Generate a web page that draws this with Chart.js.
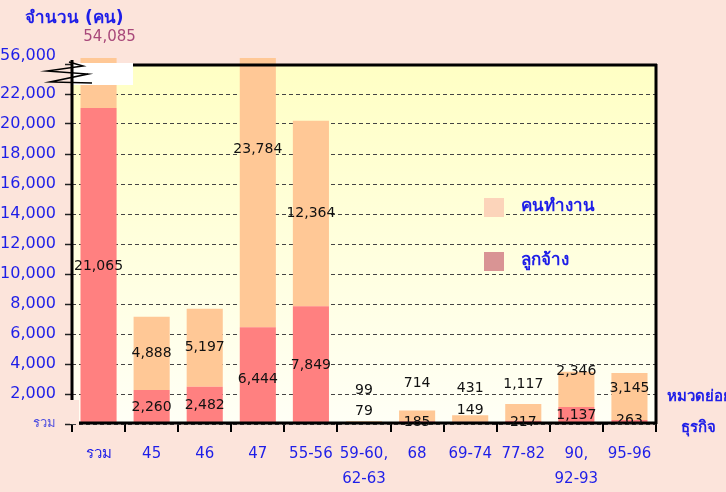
<!DOCTYPE html>
<html>
<head>
<meta charset="utf-8">
<script src="https://cdn.jsdelivr.net/npm/chart.js@4.4.1/dist/chart.umd.min.js"></script>
<style>
  html, body { margin: 0; padding: 0; background: #FCE4DB; }
  #wrap { width: 726px; height: 492px; position: relative; }
</style>
</head>
<body>
<div id="wrap"><canvas id="c" width="726" height="492"></canvas></div>
<script>
// ---- data ----
const categories = ['รวม', '45', '46', '47', '55-56', ['59-60,', '62-63'], '68', '69-74', '77-82', ['90,', '92-93'], '95-96'];
const employees = [21065, 2260, 2482, 6444, 7849, 79, 185, 149, 217, 1137, 263];   // ลูกจ้าง
const workers   = [54085, 4888, 5197, 23784, 12364, 99, 714, 431, 1117, 2346, 3145]; // คนทำงาน
const seriesNames = ['ลูกจ้าง', 'คนทำงาน'];
const yAxisTitle = 'จำนวน (คน)';
const xAxisTitle = ['หมวดย่อย', 'ธุรกิจ'];
const yMaxShown = 24000;
const yStep = 2000;
const brokenTopTick = '56,000';
const zeroTickLabel = 'รวม';

// label pixel nudges (as drawn in the reference) – presentation only
const empNudge = [0, 0, 0, 4, 0, -12, 0, -13, 0, 0, -2];
const wrkNudge = [0, 0, 0, 0, 0, -32, -33, -30, -28, -18, -8];

const FONT = "Tahoma, 'DejaVu Sans', 'Noto Sans', sans-serif";
const BLUE = '#1E1EE8';
const fmt = v => v.toLocaleString('en-US');

const decor = {
  id: 'decor',
  beforeDraw(chart) {
    const { ctx, chartArea: a } = chart;
    const g = ctx.createLinearGradient(0, a.top, 0, a.bottom);
    g.addColorStop(0, '#FFFFC4');
    g.addColorStop(1, '#FFFFF6');
    ctx.save();
    ctx.fillStyle = g;
    ctx.fillRect(a.left, a.top, a.right - a.left, a.bottom - a.top);
    ctx.restore();
  },
  afterDraw(chart) {
    const { ctx, chartArea: a, scales } = chart;
    const y = scales.y;
    ctx.save();

    // lower-left notch of the plot frame
    ctx.fillStyle = '#FCE4DB';
    ctx.fillRect(a.left - 2, a.bottom - 24, 9, 24);

    // white break box
    ctx.fillStyle = '#FFFFFF';
    ctx.fillRect(a.left + 1, a.top - 1, 60, 22);

    // frame
    ctx.strokeStyle = '#000000';
    ctx.lineWidth = 3;
    ctx.beginPath();
    ctx.moveTo(a.left + 61, a.top + 1); ctx.lineTo(a.right + 1, a.top + 1);
    ctx.moveTo(a.right, a.top); ctx.lineTo(a.right, a.bottom);
    ctx.moveTo(a.left + 7, a.bottom - 1); ctx.lineTo(a.right + 1, a.bottom - 1);
    ctx.moveTo(a.left, a.top - 4); ctx.lineTo(a.left, a.bottom - 24);
    ctx.stroke();

    // break zigzag
    ctx.lineWidth = 1.5;
    ctx.beginPath();
    const zz = [[-3, -2], [11, 2], [-25, 7], [16, 10], [-22, 18], [20, 19]];
    zz.forEach((p, i) => {
      const px = a.left + p[0], py = a.top + p[1];
      if (i === 0) ctx.moveTo(px, py); else ctx.lineTo(px, py);
    });
    ctx.stroke();

    // value labels
    ctx.font = '14px ' + FONT;
    ctx.fillStyle = '#111';
    ctx.textAlign = 'center';
    ctx.textBaseline = 'middle';
    const meta0 = chart.getDatasetMeta(0);
    employees.forEach((v, i) => {
      const x = meta0.data[i].x;
      const yy = y.getPixelForValue(v / 2) + empNudge[i];
      ctx.fillText(fmt(v), x, yy);
    });
    workers.forEach((v, i) => {
      const x = meta0.data[i].x;
      if (i === 0) {
        ctx.save();
        ctx.fillStyle = '#A8487A';
        ctx.font = '15px ' + FONT;
        ctx.fillText(fmt(v), x + 11, a.top - 27);
        ctx.restore();
        return;
      }
      const yy = y.getPixelForValue(employees[i] + v / 2) + wrkNudge[i];
      ctx.fillText(fmt(v), x, yy);
    });

    // broken top tick label
    ctx.fillStyle = BLUE;
    ctx.font = '16px ' + FONT;
    ctx.textAlign = 'right';
    ctx.fillText(brokenTopTick, a.left - 16, a.top - 8);

    // axis title
    ctx.font = 'bold 17px ' + FONT;
    ctx.textAlign = 'left';
    ctx.fillText(yAxisTitle, 25, 19);

    // x axis title (right side)
    ctx.font = 'bold 15px ' + FONT;
    ctx.textAlign = 'left';
    ctx.fillText(xAxisTitle[0], a.right + 11, a.bottom - 27);
    ctx.textAlign = 'center';
    ctx.fillText(xAxisTitle[1], a.right + 42, a.bottom + 4);

    // legend
    const leg = [
      { name: seriesNames[1], color: '#FCD4BA', yc: 207 },
      { name: seriesNames[0], color: '#D99494', yc: 261 }
    ];
    ctx.font = 'bold 17px ' + FONT;
    ctx.textAlign = 'left';
    leg.forEach(l => {
      ctx.fillStyle = l.color;
      ctx.fillRect(484, l.yc - 9, 20, 19);
      ctx.fillStyle = BLUE;
      ctx.fillText(l.name, 521, l.yc);
    });
    ctx.restore();
  }
};

new Chart(document.getElementById('c'), {
  type: 'bar',
  data: {
    labels: categories,
    datasets: [
      { label: seriesNames[0], data: employees, backgroundColor: '#FF8080', clip: { left: 0, top: 6, right: 0, bottom: 0 } },
      { label: seriesNames[1], data: workers, backgroundColor: '#FFC896', clip: { left: 0, top: 6, right: 0, bottom: 0 } }
    ]
  },
  options: {
    responsive: false,
    animation: false,
    events: [],
    layout: { padding: { top: 64, right: 70, bottom: 0, left: 0 } },
    datasets: { bar: { categoryPercentage: 0.68, barPercentage: 1 } },
    plugins: { legend: { display: false }, tooltip: { enabled: false } },
    scales: {
      x: {
        stacked: true,
        afterFit: s => { s.height = 68; },
        grid: { drawOnChartArea: false, drawTicks: true, tickLength: 8, color: '#000', lineWidth: 2, offset: true },
        border: { display: false },
        ticks: { color: BLUE, font: { family: FONT, size: 15, lineHeight: 1.67 }, padding: 10, maxRotation: 0, autoSkip: false }
      },
      y: {
        stacked: true,
        min: 0,
        max: yMaxShown,
        afterFit: s => { s.width = 72; },
        grid: { color: '#444', lineWidth: 1, tickLength: 7, tickColor: '#222', tickWidth: 1.5 },
        border: { display: false, dash: [4, 3] },
        ticks: {
          stepSize: yStep,
          padding: 9,
          callback: v => v === 0 ? zeroTickLabel : (v >= yMaxShown ? '' : fmt(v)),
          color: c => (c.tick && c.tick.value === 0) ? '#5050E0' : BLUE,
          font: c => (c.tick && c.tick.value === 0) ? { family: FONT, size: 13 } : { family: FONT, size: 16 }
        }
      }
    }
  },
  plugins: [decor]
});
</script>
</body>
</html>
